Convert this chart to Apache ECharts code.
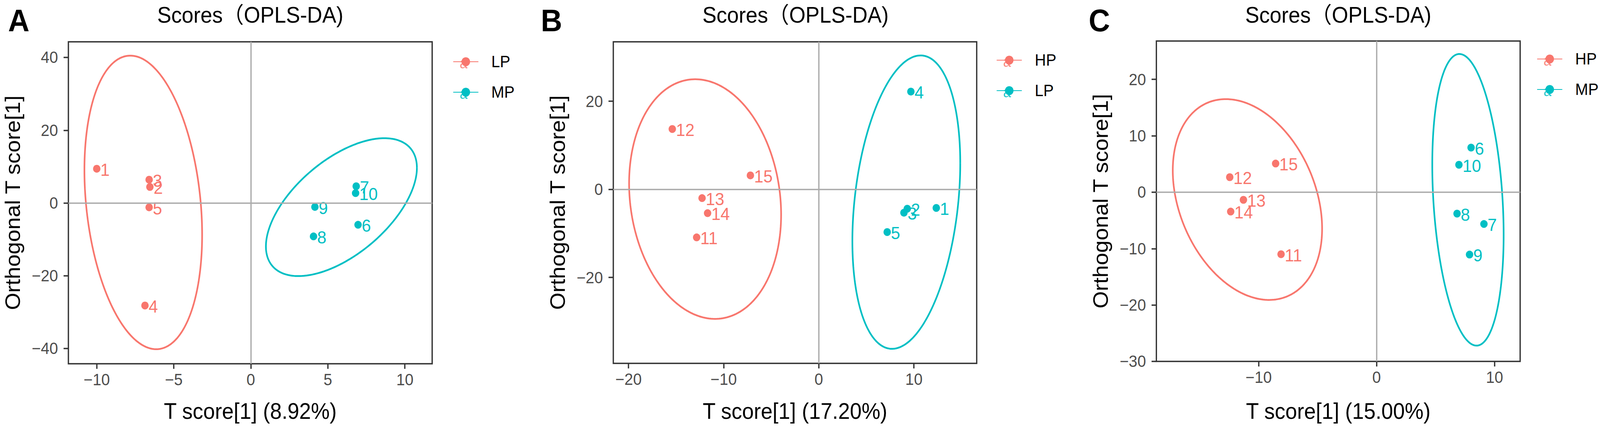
<!DOCTYPE html>
<html>
<head>
<meta charset="utf-8">
<script src="https://cdn.jsdelivr.net/npm/echarts@6/dist/echarts.min.js"></script>
<style>
html,body{margin:0;padding:0;background:#fff;overflow:hidden;}
#chart{width:4328px;height:1098px;transform-origin:0 0;}
</style>
</head>
<body>
<div id="chart"></div>
<script>
// ---------------- DATA ----------------
const RED = '#F8766D';
const CYAN = '#00BFC4';

// Panel A : LP vs MP
const A_LP_ids = ['1', '2', '3', '4', '5'];
const A_LP_x = [-10.0, -6.55, -6.6, -6.87, -6.6];
const A_LP_y = [9.4, 4.4, 6.4, -28.2, -1.2];
const A_MP_ids = ['6', '7', '8', '9', '10'];
const A_MP_x = [6.96, 6.84, 4.07, 4.16, 6.8];
const A_MP_y = [-6.0, 4.6, -9.2, -1.1, 2.7];

// Panel B : HP vs LP
const B_HP_ids = ['11', '12', '13', '14', '15'];
const B_HP_x = [-12.84, -15.4, -12.27, -11.69, -7.19];
const B_HP_y = [-10.9, 13.7, -1.99, -5.4, 3.17];
const B_LP_ids = ['1', '2', '3', '4', '5'];
const B_LP_x = [12.35, 9.3, 8.95, 9.68, 7.19];
const B_LP_y = [-4.22, -4.4, -5.3, 22.2, -9.7];

// Panel C : HP vs MP
const C_HP_ids = ['11', '12', '13', '14', '15'];
const C_HP_x = [-8.1, -12.45, -11.29, -12.37, -8.56];
const C_HP_y = [-11.0, 2.66, -1.36, -3.44, 5.08];
const C_MP_ids = ['6', '7', '8', '9', '10'];
const C_MP_x = [8.01, 9.1, 6.82, 7.88, 6.98];
const C_MP_y = [7.9, -5.64, -3.8, -11.06, 4.86];

// Confidence ellipses: [centerX, centerY, halfWidthX, halfHeightY, correlation]
const A_LP_ellipse = [-6.98, 0.15, 3.82, 40.35, -0.22];
const A_MP_ellipse = [5.88, -1.15, 4.9, 18.95, 0.57];
const B_HP_ellipse = [-11.95, -2.2, 7.99, 27.2, -0.13];
const B_LP_ellipse = [9.2, -2.9, 5.67, 33.3, 0.265];
const C_HP_ellipse = [-10.95, -1.3, 6.33, 17.8, -0.29];
const C_MP_ellipse = [7.745, -1.35, 3.025, 25.85, -0.24];

// Axis ticks
const A_xTicks = [-10, -5, 0, 5, 10];
const A_yTicks = [-40, -20, 0, 20, 40];
const B_xTicks = [-20, -10, 0, 10];
const B_yTicks = [-20, 0, 20];
const C_xTicks = [-10, 0, 10];
const C_yTicks = [-30, -20, -10, 0, 10, 20];

// Axis ranges
const A_xRange = [-11.84, 11.77];
const A_yRange = [-44.2, 44.3];
const B_xRange = [-21.6, 16.6];
const B_yRange = [-39.5, 33.5];
const C_xRange = [-18.67, 12.17];
const C_yRange = [-30, 26.8];

// Texts
const panelLetters = ['A', 'B', 'C'];
const panelTitle = 'Scores（OPLS-DA)';
const xTitles = ['T score[1] (8.92%)', 'T score[1] (17.20%)', 'T score[1] (15.00%)'];
const yTitle = 'Orthogonal T score[1]';
const groupsA = ['LP', 'MP'];
const groupsB = ['HP', 'LP'];
const groupsC = ['HP', 'MP'];

// ---------------- BUILD ----------------
const FONT = "'Liberation Sans', Arial, 'Noto Sans CJK SC', sans-serif";

function ellipsePoints(p, n) {
  const cx = p[0], cy = p[1], hx = p[2], hy = p[3], rho = p[4];
  const s = Math.sqrt(1 - rho * rho);
  const pts = [];
  for (let i = 0; i <= n; i++) {
    const t = 2 * Math.PI * i / n;
    pts.push([cx + hx * Math.cos(t), cy + hy * (rho * Math.cos(t) - s * Math.sin(t))]);
  }
  return pts;
}

function fmt(v) { return v < 0 ? '\u2212' + Math.abs(v) : String(v); }

const LEG_W = 68, LEG_H = 29, LEG_STEP = 78, LEG_FONT = 42;

const panels = [
  {key: 'A', grid: {left: 185, top: 107, width: 984, height: 824}, xr: A_xRange, yr: A_yRange, xt: A_xTicks, yt: A_yTicks,
   groups: [
     {name: groupsA[0], color: RED, ids: A_LP_ids, xs: A_LP_x, ys: A_LP_y, ell: A_LP_ellipse},
     {name: groupsA[1], color: CYAN, ids: A_MP_ids, xs: A_MP_x, ys: A_MP_y, ell: A_MP_ellipse}],
   legend: {left: 1220, row: 153}, title: 677, letterX: 22, xNameGap: 93},
  {key: 'B', grid: {left: 1659, top: 107, width: 983, height: 823}, xr: B_xRange, yr: B_yRange, xt: B_xTicks, yt: B_yTicks,
   groups: [
     {name: groupsB[0], color: RED, ids: B_HP_ids, xs: B_HP_x, ys: B_HP_y, ell: B_HP_ellipse},
     {name: groupsB[1], color: CYAN, ids: B_LP_ids, xs: B_LP_x, ys: B_LP_y, ell: B_LP_ellipse}],
   legend: {left: 2690, row: 149}, title: 2152, letterX: 1463, xNameGap: 94},
  {key: 'C', grid: {left: 3128, top: 105, width: 984, height: 820}, xr: C_xRange, yr: C_yRange, xt: C_xTicks, yt: C_yTicks,
   groups: [
     {name: groupsC[0], color: RED, ids: C_HP_ids, xs: C_HP_x, ys: C_HP_y, ell: C_HP_ellipse},
     {name: groupsC[1], color: CYAN, ids: C_MP_ids, xs: C_MP_x, ys: C_MP_y, ell: C_MP_ellipse}],
   legend: {left: 4152, row: 146}, title: 3620, letterX: 2945, xNameGap: 99}
];

const option = {
  backgroundColor: '#ffffff',
  animation: false,
  grid: [], xAxis: [], yAxis: [], series: [], legend: [], graphic: []
};

panels.forEach((p, k) => {
  option.grid.push(Object.assign({show: true, borderColor: '#333333', borderWidth: 3.5, backgroundColor: '#ffffff',
    containLabel: false, outerBoundsMode: 'none'}, p.grid));
  const axisCommon = {
    type: 'value', gridIndex: k,
    axisLine: {show: false, onZero: false},
    splitLine: {show: false},
    axisTick: {show: true, length: 13, lineStyle: {color: '#333333', width: 3.5}},
    axisLabel: {show: true, color: '#4D4D4D', fontSize: 42, fontFamily: FONT, formatter: fmt},
    nameLocation: 'middle',
    nameTextStyle: {color: '#000000', fontSize: 57, fontFamily: FONT}
  };
  option.xAxis.push(Object.assign({}, axisCommon, {
    min: p.xr[0], max: p.xr[1],
    axisTick: Object.assign({}, axisCommon.axisTick, {customValues: p.xt}),
    axisLabel: Object.assign({}, axisCommon.axisLabel, {customValues: p.xt, margin: 20}),
    name: xTitles[k], nameGap: p.xNameGap
  }));
  option.yAxis.push(Object.assign({}, axisCommon, {
    min: p.yr[0], max: p.yr[1],
    axisTick: Object.assign({}, axisCommon.axisTick, {customValues: p.yt}),
    axisLabel: Object.assign({}, axisCommon.axisLabel, {customValues: p.yt, margin: 28}),
    name: yTitle, nameGap: 122
  }));

  // zero reference lines
  option.series.push({
    name: 'zero-' + p.key, type: 'line', xAxisIndex: k, yAxisIndex: k, data: [], z: 1, silent: true,
    markLine: {silent: true, symbol: ['none', 'none'], label: {show: false},
      lineStyle: {color: '#ABABAB', width: 3.5, type: 'solid'}, emphasis: {disabled: true},
      data: [{xAxis: 0}, {yAxis: 0}]}
  });

  // ellipses (listed first so the legend key is line + dot)
  p.groups.forEach(g => {
    option.series.push({
      name: p.key + '|' + g.name, type: 'line', xAxisIndex: k, yAxisIndex: k, z: 2,
      data: ellipsePoints(g.ell, 240), symbol: 'circle', showSymbol: false, smooth: false, silent: true,
      color: g.color, itemStyle: {color: g.color},
      lineStyle: {color: g.color, width: 4.5}
    });
  });
  // score points with sample labels
  p.groups.forEach(g => {
    option.series.push({
      name: p.key + '|' + g.name, type: 'scatter', xAxisIndex: k, yAxisIndex: k, z: 3,
      symbol: 'circle', symbolSize: 20, color: g.color, itemStyle: {color: g.color, opacity: 1},
      data: g.ids.map((id, i) => ({name: id, value: [g.xs[i], g.ys[i]]})),
      label: {show: true, position: 'right', distance: 0, formatter: '{b}', color: g.color,
        fontSize: 45, fontFamily: FONT, offset: [0, 2]}
    });
  });

  // legend: item box height equals the text height (LEG_FONT), icon centred in it
  option.legend.push({
    orient: 'vertical', left: p.legend.left, top: p.legend.row - LEG_FONT / 2, z: 10,
    itemWidth: LEG_W, itemHeight: LEG_H, itemGap: LEG_STEP - LEG_FONT, selectedMode: false,
    data: p.groups.map(g => p.key + '|' + g.name),
    formatter: n => n.split('|')[1],
    textStyle: {fontSize: LEG_FONT, fontFamily: FONT, color: '#000000', padding: [0, 0, 0, 30]}
  });

  // ggplot text-key glyphs beneath legend keys
  p.groups.forEach((g, i) => {
    option.graphic.push({
      type: 'text', z: 0, silent: true,
      style: {text: 'a', x: p.legend.left + LEG_W / 2, y: p.legend.row + i * LEG_STEP + 9,
        align: 'center', verticalAlign: 'middle', fill: g.color, opacity: 0.85,
        font: '38px ' + FONT}
    });
  });

  option.graphic.push({
    type: 'text', silent: true,
    style: {text: panelTitle, x: p.title, y: 38, align: 'center', verticalAlign: 'middle',
      fill: '#000000', font: '57px ' + FONT}
  });
  option.graphic.push({
    type: 'text', silent: true,
    style: {text: panelLetters[k], x: p.letterX, y: 52, align: 'left', verticalAlign: 'middle',
      fill: '#000000', font: 'bold 80px ' + FONT}
  });
});

// fit the 4328x1098 design into whatever viewport the page gets
const el = document.getElementById('chart');
const sx = window.innerWidth / 4328, sy = window.innerHeight / 1098;
el.style.transform = 'scale(' + sx + ',' + sy + ')';
const chart = echarts.init(el, null, {renderer: 'svg', width: 4328, height: 1098});
chart.setOption(option);
</script>
</body>
</html>
